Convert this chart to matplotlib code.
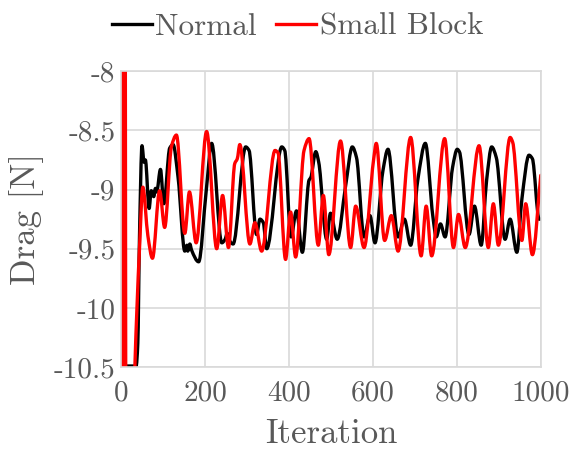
import matplotlib
matplotlib.use("Agg")
import matplotlib.pyplot as plt
import numpy as np
from matplotlib.lines import Line2D
from matplotlib.path import Path
from matplotlib.patches import PathPatch

# Normal case (black)
normal_iter = [0, 5, 36, 40, 44, 50, 55, 58, 67, 72, 78, 82, 85, 94, 102, 116,
               124, 136, 152, 157, 159, 164, 168, 185, 203, 216, 240, 248, 253,
               260, 267, 297, 305, 323, 331, 339, 347, 383, 390, 405, 418, 432,
               448, 452, 464, 471, 490, 499, 515, 535, 551, 561, 579, 593, 605,
               624, 636, 660, 675, 690, 707, 725, 743, 751, 761, 772, 790, 801,
               806, 829, 842, 858, 871, 883, 894, 915, 927, 943, 955, 972, 980,
               996, 1000]
normal_drag = [-4.0, -10.49, -10.49, -10.3, -9.4, -8.63, -8.77, -8.75, -9.16,
               -9.01, -9.06, -8.99, -9.02, -8.83, -9.12, -8.65, -8.62, -8.9,
               -9.52, -9.47, -9.52, -9.46, -9.51, -9.61, -9.01, -8.61, -9.45,
               -9.42, -9.37, -9.44, -9.46, -8.64, -8.67, -9.38, -9.25, -9.28,
               -9.5, -8.64, -8.67, -9.40, -9.18, -9.53, -8.92, -8.9, -8.68,
               -8.77, -9.42, -9.2, -9.42, -8.97, -8.64, -8.73, -9.4, -9.22,
               -9.45, -8.84, -8.66, -9.4, -9.25, -9.47, -8.92, -8.61, -9.23,
               -9.40, -9.29, -9.4, -8.81, -8.66, -8.68, -9.38, -9.14, -9.47,
               -8.92, -8.64, -8.73, -9.42, -9.25, -9.53, -9.08, -8.71, -8.74,
               -9.25, -9.25]

# Small block case (red)
block_iter = [0, 2, 6, 16, 28, 33, 38, 44, 52, 64, 75, 92, 104, 120, 132, 152,
              163, 179, 204, 228, 242, 256, 271, 277, 283, 307, 319, 335, 367,
              374, 392, 404, 416, 436, 448, 470, 482, 495, 523, 547, 559, 579,
              602, 608, 628, 644, 660, 690, 715, 727, 740, 771, 792, 804, 820,
              853, 875, 887, 899, 927, 933, 955, 964, 980, 1000]
block_drag = [0.0, -20.0, 0.0, -20.0, -11.2, -10.5, -10.0, -9.5, -8.98, -9.39,
              -9.58, -9.01, -9.32, -8.64, -8.54, -9.37, -9.02, -9.45, -8.51,
              -9.5, -9.05, -9.49, -8.78, -8.74, -8.62, -9.46, -9.28, -9.52,
              -8.67, -8.69, -9.59, -9.19, -9.57, -8.67, -8.57, -9.47, -9.05,
              -9.55, -8.59, -9.49, -9.14, -9.49, -8.74, -8.61, -9.43, -9.22,
              -9.52, -8.56, -9.56, -9.14, -9.56, -8.57, -9.49, -9.21, -9.49,
              -8.63, -9.49, -9.12, -9.47, -8.56, -8.6, -9.43, -9.12, -9.55,
              -8.88]

x_ticks = [0, 200, 400, 600, 800, 1000]
y_ticks = [-10.5, -10, -9.5, -9, -8.5, -8]
y_tick_labels = ["-10.5", "-10", "-9.5", "-9", "-8.5", "-8"]

text_grey = "#595959"
grid_grey = "#d9d9d9"
LW = 2.4


def smooth_path(x, y):
    # monotone (pchip-like) cubic through the points, as Bezier segments
    x = np.asarray(x, float)
    y = np.asarray(y, float)
    h = np.diff(x)
    d = np.diff(y) / h
    m = np.zeros_like(y)
    m[0], m[-1] = d[0], d[-1]
    for i in range(1, len(y) - 1):
        if d[i - 1] * d[i] > 0:
            w1 = 2 * h[i] + h[i - 1]
            w2 = h[i] + 2 * h[i - 1]
            m[i] = (w1 + w2) / (w1 / d[i - 1] + w2 / d[i])
    verts = [(x[0], y[0])]
    codes = [Path.MOVETO]
    for i in range(len(x) - 1):
        verts += [(x[i] + h[i] / 3, y[i] + m[i] * h[i] / 3),
                  (x[i + 1] - h[i] / 3, y[i + 1] - m[i + 1] * h[i] / 3),
                  (x[i + 1], y[i + 1])]
        codes += [Path.CURVE4] * 3
    return Path(verts, codes)


plt.rcParams["font.family"] = ["cmr10", "DejaVu Serif"]

fig = plt.figure(figsize=(5.79, 4.5), dpi=100)
ax = fig.add_axes([0.209, 0.184, 0.725, 0.658])

for xs, ys, col in [(normal_iter, normal_drag, "black"),
                    (block_iter, block_drag, "#ff0000")]:
    ax.add_patch(PathPatch(smooth_path(xs, ys), facecolor="none", edgecolor=col,
                           lw=LW, joinstyle="round", capstyle="round"))

ax.set_xlim(0, 1000)
ax.set_ylim(-10.5, -8)
ax.set_xticks(x_ticks)
ax.set_xticklabels([str(t) for t in x_ticks])
ax.set_yticks(y_ticks)
ax.set_yticklabels(y_tick_labels)

ax.grid(True, color=grid_grey, lw=1.2)
ax.set_axisbelow(True)
for s in ax.spines.values():
    s.set_color(grid_grey)
    s.set_linewidth(1.2)
ax.tick_params(length=0, colors=text_grey, labelsize=21)
ax.tick_params(axis="x", pad=9)
ax.tick_params(axis="y", pad=4)

ax.set_xlabel("Iteration", color=text_grey, fontsize=25, labelpad=9)
ax.set_ylabel("Drag [N]", color=text_grey, fontsize=25, labelpad=7)

handles = [Line2D([], [], color="black", lw=LW),
           Line2D([], [], color="#ff0000", lw=LW)]
leg = ax.legend(handles, ["Normal", "Small Block"], loc="lower center",
                bbox_to_anchor=(0.42, 1.06), ncol=2, frameon=False,
                handlelength=1.3, handletextpad=0.1, columnspacing=0.6,
                borderaxespad=0, fontsize=22.5)
for t in leg.get_texts():
    t.set_color(text_grey)

fig.savefig("out.png", dpi=100)
